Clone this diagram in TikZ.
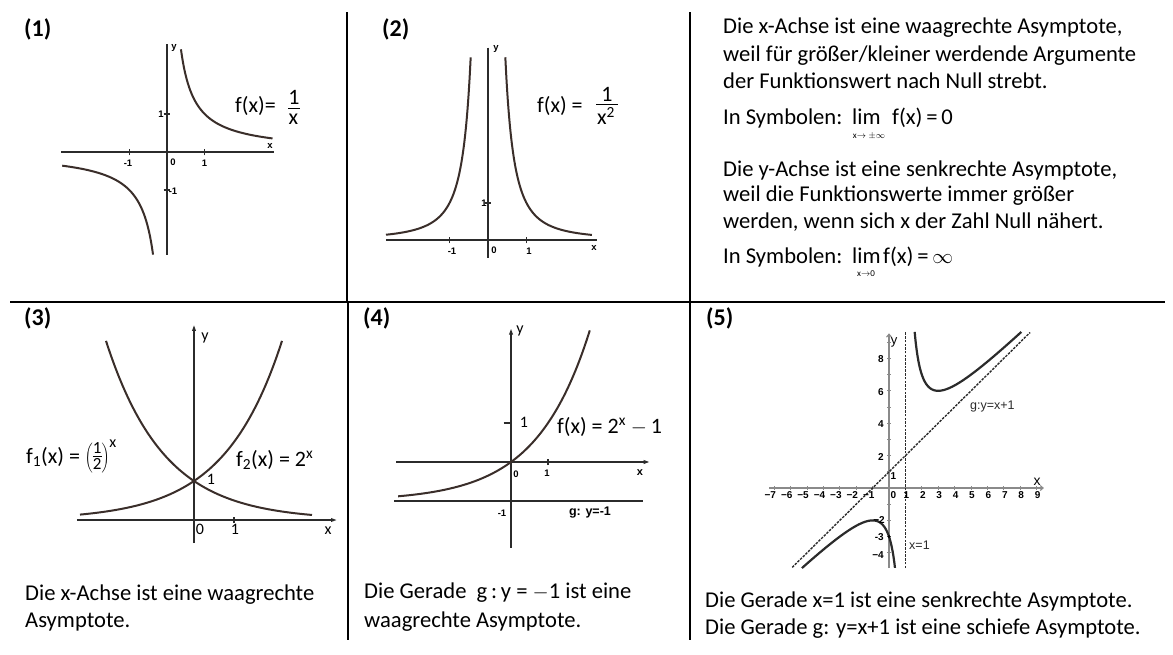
\documentclass[tikz,border=0pt]{standalone}
\usepackage{fontspec}
\setmainfont{Carlito}
\newfontfamily\arialf{Liberation Sans}
\usetikzlibrary{arrows.meta}
\definecolor{axc}{HTML}{2B2B2B}
\definecolor{cvc}{HTML}{3A2E2A}
\definecolor{gax}{HTML}{8A8A8A}
\begin{document}
\begin{tikzpicture}[x=1pt,y=-1pt,
  txt/.style={anchor=base west, inner sep=0pt, font=\fontsize{22.6}{26}\selectfont},
  hdr/.style={anchor=west, inner sep=0pt, font=\fontsize{24}{28}\selectfont\bfseries},
  lbl/.style={inner sep=0pt, font=\fontsize{22}{24}\selectfont},
  small/.style={inner sep=0pt, font=\arialf\bfseries\fontsize{9.5}{10}\selectfont},
  smallb/.style={inner sep=0pt, font=\arialf\bfseries\fontsize{10}{11}\selectfont},
  mid/.style={inner sep=0pt, font=\fontsize{16}{18}\selectfont},
  divider/.style={line width=2.2pt, black},
  axis/.style={line width=2.3pt, color=axc},
  curve/.style={line width=2pt, color=cvc},
  tick/.style={line width=1.4pt, color=axc},
  gaxis/.style={line width=1.1pt, color=gax},
  asym/.style={line width=1.4pt, color=axc, dash pattern=on 2.5pt off 1.2pt},
  gcurve/.style={line width=2.2pt, color=axc}
]
\useasboundingbox (0,0) rectangle (1173,654);
% dividers
\draw[divider] (10,302) -- (1165,302);
\draw[divider] (347,12) -- (347,302);
\draw[divider] (690,12) -- (690,302);
\draw[divider] (348,302) -- (348,640);
\draw[divider] (690,302) -- (690,640);
% headers
\node[hdr] (h1) at (24,29) {(1)};
\node[hdr] (h2) at (382,29) {(2)};
\node[hdr] (h3) at (24,318) {(3)};
\node[hdr] (h4) at (363,318) {(4)};
\node[hdr] (h5) at (706,318) {(5)};

% ---------- panel 1
\begin{scope}[shift={(167,152)}, x=37.7pt, y=38pt]
  \draw[axis] (-2.8,0) -- (2.84,0);
  \draw[axis] (0,2.84) -- (0,-2.71);
  \foreach \t in {-1,1} {\draw[tick] (\t,-0.09) -- (\t,0.09); \draw[tick] (-0.09,\t) -- (0.09,\t);}
  \draw[curve] plot[domain=0.37:2.8,samples=80,smooth] (\x,{1/\x});
  \draw[curve] plot[domain=-2.78:-0.37,samples=80,smooth] (\x,{1/\x});
\end{scope}
\node[small] (p1y) at (174,48) {y};
\node[small] (p1x) at (270,146) {x};
\node[small] (p1m1) at (128,163) {-1};
\node[small] (p1o) at (173,162) {0};
\node[small] (p1p1) at (204.5,163) {1};
\node[small] (p1y1) at (161,114) {1};
\node[small] (p1ym1) at (173,191) {-1};
\node[lbl, anchor=base west] (p1f) at (235,112) {f(x)=};
\node[lbl] (p1fn) at (294,97.5) {1};
\draw[line width=0.9pt] (288,108.5) -- (300,108.5);
\node[lbl] (p1fd) at (293.5,119.5) {x};

% ---------- panel 2
\begin{scope}[shift={(488,240)}, x=38.5pt, y=37pt]
  \draw[axis] (-2.65,0) -- (2.83,0);
  \draw[axis] (0,5.2) -- (0,-0.49);
  \foreach \t in {-1,1} {\draw[tick] (\t,-0.09) -- (\t,0.09);}
  \draw[tick] (-0.09,1) -- (0.09,1);
  \draw[curve] plot[domain=-2.65:-0.45,samples=80,smooth] (\x,{1/(\x*\x)});
  \draw[curve] plot[domain=0.45:2.7,samples=80,smooth] (\x,{1/(\x*\x)});
\end{scope}
\node[small] (p2y) at (496,49) {y};
\node[small] (p2x) at (594,248) {x};
\node[small] (p2m1) at (452,251) {-1};
\node[small] (p2o) at (494,250) {0};
\node[small] (p2p1) at (529,251) {1};
\node[small] (p2y1) at (484,203) {1};
\node[lbl, anchor=base west] (p2f) at (537,112) {f(x) =};
\node[lbl] (p2fn) at (607,94) {1};
\draw[line width=0.9pt] (596,104) -- (618,104);
\node[lbl] (p2fd) at (606,116) {x\textsuperscript{2}};

% ---------- panel (top right) text
\node[txt] (t1) at (723,33) {Die x-Achse ist eine waagrechte Asymptote,};
\node[txt] (t2) at (723,61) {weil für größer/kleiner werdende Argumente};
\node[txt] (t3) at (723,88) {der Funktionswert nach Null strebt.};
\node[txt] (t4) at (723,124) {In Symbolen:};
\node[txt] (t4l) at (852,124) {lim};
\node[txt] (t4f) at (892,124) {f(x)\,=\,0};
\node[inner sep=0pt, font=\fontsize{9}{10}\selectfont] (t4s) at (869,136) {x$\to\pm\infty$};
\node[txt] (t5) at (723,176) {Die y-Achse ist eine senkrechte Asymptote,};
\node[txt] (t6) at (723,201) {weil die Funktionswerte immer größer};
\node[txt] (t7) at (723,228) {werden, wenn sich x der Zahl Null nähert.};
\node[txt] (t8) at (723,263) {In Symbolen:};
\node[txt] (t8l) at (852,263) {lim};
\node[txt] (t8f) at (883,263) {f(x)\,=\,$\infty$};
\node[inner sep=0pt, font=\fontsize{9}{10}\selectfont] (t8s) at (866,274) {x$\to$0};

% ---------- panel 3
\begin{scope}[shift={(194,520)}, x=40pt, y=39pt]
  \draw[axis, -{Latex[length=9pt,width=4pt]}] (-2.93,0) -- (3.65,0);
  \draw[axis, -{Latex[length=9pt,width=4pt]}] (0,-0.59) -- (0,5.08);
  \draw[tick] (1,-0.08) -- (1,0.08);
  \draw[curve] plot[domain=-2.85:2.2,samples=80,smooth] (\x,{2^\x});
  \draw[curve] plot[domain=-2.2:2.95,samples=80,smooth] (\x,{2^(-\x)});
\end{scope}
\node[mid] (p3y) at (205,338) {y};
\node[mid] (p3x) at (328,531) {x};
\node[mid] (p3o) at (200,529) {0};
\node[mid] (p3p1) at (235,529) {1};
\node[mid] (p3i) at (211,479) {1};
\node[lbl, anchor=west] (p3f1) at (26,457) {f\textsubscript{1}(x) = $\left(\vcenter{\hbox{\fontsize{17}{17}\selectfont\begin{tabular}{@{}c@{}}1\\[-3pt]\hline\rule{0pt}{13pt}2\end{tabular}}}\right)^{\hbox{\fontsize{16}{16}\selectfont x}}$};
\node[lbl, anchor=west] (p3f2) at (236,460) {f\textsubscript{2}(x) = 2\textsuperscript{x}};
\node[txt] (p3t1) at (25,600) {Die x-Achse ist eine waagrechte};
\node[txt] (p3t2) at (25,627) {Asymptote.};

% ---------- panel 4
\begin{scope}[shift={(511,462)}, x=37pt, y=39pt]
  \draw[axis, -{Latex[length=9pt,width=4pt]}] (-3.1,0) -- (3.83,0);
  \draw[axis, -{Latex[length=9pt,width=4pt]}] (0,-2.2) -- (0,3.5);
  \draw[axis] (-3.16,-1) -- (3.57,-1);
  \draw[tick] (1,-0.08) -- (1,0.08);
  \draw[tick] (-0.2,1) -- (0,1);
  \draw[curve] plot[domain=-3.05:2.13,samples=80,smooth] (\x,{2^\x-1});
\end{scope}
\node[mid] (p4y) at (520,331) {y};
\node[mid] (p4y1) at (524,422) {1};
\node[small] (p4o) at (516,474) {0};
\node[small] (p4p1) at (547,473) {1};
\node[small, font=\arialf\bfseries\fontsize{11}{12}\selectfont] (p4x) at (640,473) {x};
\node[small] (p4m1) at (502,513) {-1};
\node[small, font=\arialf\bfseries\fontsize{12.5}{13}\selectfont] (p4g) at (590,513) {g: y=-1};
\node[lbl, anchor=base west] (p4f) at (557,433) {f(x) = 2\textsuperscript{x} $-$\,1};
\node[txt] (p4t1) at (364,598) {Die Gerade \ g\,:\,y = $-$1 ist eine};
\node[txt] (p4t2) at (364,627) {waagrechte Asymptote.};

% ---------- panel 5
\begin{scope}[shift={(889,488)}, x=16.4pt, y=16.2pt]
  \draw[gaxis, -{Straight Barb[length=3pt,width=5pt]}] (-7.3,0) -- (9.45,0);
  \draw[gaxis, -{Straight Barb[length=3pt,width=5pt]}] (0,-4.94) -- (0,9.55);
  \foreach \t in {-7,...,9} {\draw[gaxis, line width=0.8pt] (\t,-0.12) -- (\t,0.12);}
  \foreach \t in {-4,...,9} {\draw[gaxis, line width=0.8pt] (-0.12,\t) -- (0.12,\t);}
  \draw[asym] (1,-4.94) -- (1,9.63);
  \draw[asym] (-5.9,-4.9) -- (8.6,9.6);
  \draw[gcurve] plot[domain=1.566:8.07,samples=200,smooth] (\x,{\x+1+4/(\x-1)});
  \draw[gcurve] plot[domain=-5.31:0.366,samples=120,smooth] (\x,{\x+1+4/(\x-1)});
  \fill[black] (0,-3) circle[radius=1.6pt];
\end{scope}
\foreach \k in {-7,...,-1} {
  \node[smallb, anchor=north east] (p5xl\k) at ({889+\k*16.4+2},491.5) {−\the\numexpr-\k\relax};
}
\node[smallb, anchor=north west] (p5x0) at (890.5,491.5) {0};
\foreach \k in {1,...,9} {
  \node[smallb, anchor=north] (p5xl\k) at ({889+\k*16.4+1},491.5) {\k};
}
\node[smallb, anchor=east] (p5y8) at (884,359.5) {8};
\node[smallb, anchor=east] (p5y6) at (884,392) {6};
\node[smallb, anchor=east] (p5y4) at (884,424.5) {4};
\node[smallb, anchor=east] (p5y2) at (884,457) {2};
\node[smallb, anchor=west] (p5y1) at (890.5,476.5) {1};
\node[smallb, anchor=east] (p5ym2) at (885,520) {−2};
\node[smallb, anchor=east] (p5ym3) at (884,537) {-3};
\node[smallb, anchor=east] (p5ym4) at (884,555) {−4};
\node[inner sep=0pt, font=\arialf\fontsize{14}{14}\selectfont] (p5x) at (1037,482) {x};
\node[inner sep=0pt, font=\arialf\fontsize{13}{13}\selectfont] (p5y) at (894,342) {y};
\node[inner sep=0pt, anchor=west, font=\arialf\fontsize{12.5}{13}\selectfont, text=axc] (p5g) at (970,406) {g:y=x+1};
\node[inner sep=0pt, anchor=west, font=\arialf\fontsize{12.5}{13}\selectfont, text=axc] (p5a) at (909,545) {x=1};
\node[txt] (p5t1) at (705,607) {Die Gerade x=1 ist eine senkrechte Asymptote.};
\node[txt] (p5t2) at (705,634) {Die Gerade g: y=x+1 ist eine schiefe Asymptote.};
\end{tikzpicture}
\end{document}
